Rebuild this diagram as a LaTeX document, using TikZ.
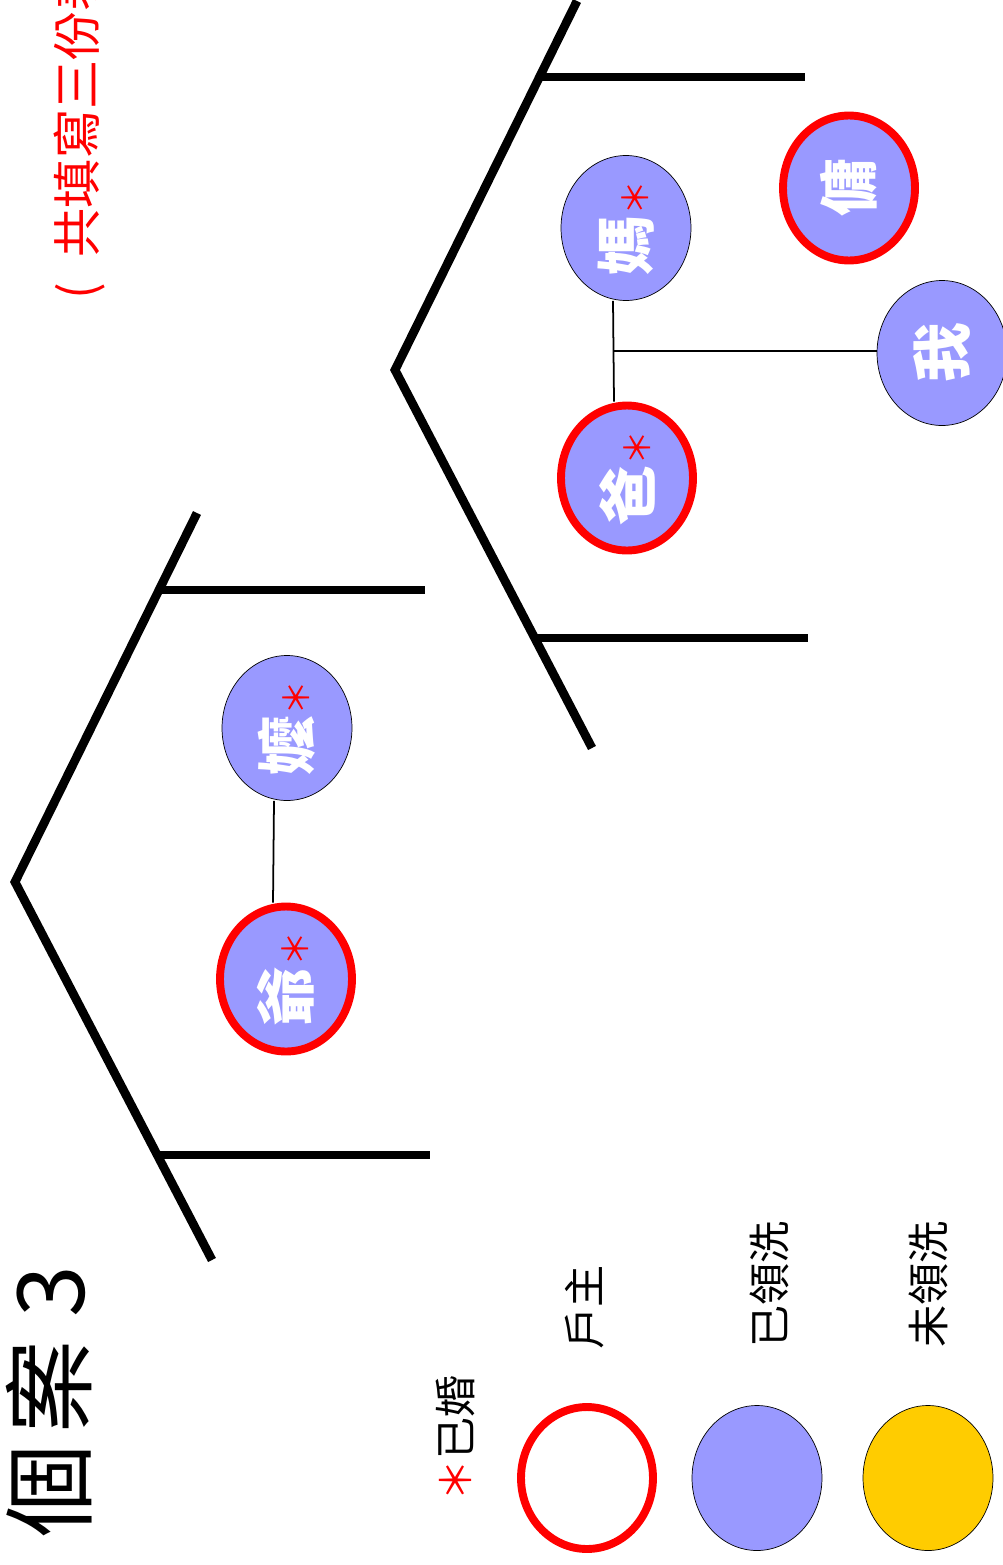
\documentclass[tikz,border=0pt]{standalone}
\usepackage{fontspec}
\setmainfont{Noto Sans CJK TC}
\usepackage{graphicx}
\usepackage{xcolor}
\usetikzlibrary{shapes.geometric,calc}
\definecolor{baptized}{RGB}{153,153,255}
\definecolor{unbaptized}{RGB}{255,204,0}
\definecolor{headred}{RGB}{255,0,0}
\newcommand{\wed}{\textcolor{headred}{\mdseries\fontsize{20}{20}\selectfont＊}}

\begin{document}
\begin{tikzpicture}[x=0.02cm,y=-0.02cm,
    bracket/.style={line width=5pt},
    link/.style={line width=1pt},
    member/.style={ellipse,
        draw=black,
        fill=baptized,
        inner sep=0pt,
        minimum width=2.6cm,
        minimum height=2.9cm,
        text=white,
        font=\bfseries\fontsize{34}{36}\selectfont},
    head/.style={member,
        draw=headred,
        line width=4.5pt,
        minimum width=2.64cm},
    vtext/.style={rotate=90,
        anchor=west,
        inner sep=0pt}]
    \useasboundingbox (0,0) rectangle (1003,1565);
    \clip (0,0) rectangle (1003,1565);

    % Title and note
    \node[vtext,font=\fontsize{53}{56}\selectfont] (title) at (49,1538) {個\hspace{0.12em}案\hspace{0.25em}3};
    \node[vtext,headred,font=\fontsize{28}{30}\selectfont] (note) at (80,300) {(~\hspace{0.3em}共填寫三份表};

    % Grandparents household
    \draw[bracket] (197,513) -- (15,882) -- (212,1260);
    \draw[bracket] (159,590) -- (425,590);
    \draw[bracket] (157,1155) -- (430,1155);

    \node[member] (nai) at (287,728) {\rotatebox{90}{嬤\wed}};
    \node[head] (ye) at (286,979) {\rotatebox{90}{爺\wed}};
    \draw[link] ([xshift=-0.26cm]nai.south) -- ([xshift=-0.26cm]ye.north);

    % Parents household
    \draw[bracket] (577,1) -- (395,370) -- (592,748);
    \draw[bracket] (540,77) -- (805,77);
    \draw[bracket] (535,638) -- (808,638);

    \node[member] (ma) at (626,228) {\rotatebox{90}{媽\wed}};
    \node[head] (ba) at (627,478) {\rotatebox{90}{爸\wed}};
    \node[member] (wo) at (942,353) {\rotatebox{90}{我}};
    \node[head] (yong) at (849,188) {\rotatebox{90}{傭}};
    \draw[link] ([xshift=-0.26cm]ma.south) -- ([xshift=-0.26cm]ba.north);
    \coordinate (kids) at ($([xshift=-0.26cm]ma.south)!0.5!([xshift=-0.26cm]ba.north)$);
    \draw[link] (kids) -- (kids -| wo.west);

    % Legend
    \node[vtext,font=\fontsize{24}{26}\selectfont] (married) at (455,1502) {\textcolor{headred}{＊}已婚};
    \node[head,fill=white,minimum height=2.84cm] (keyhead) at (587,1478) {};
    \node[vtext,font=\fontsize{24}{26}\selectfont] (headtext) at (585,1350) {戶主};
    \node[member] (keybap) at (757,1478) {};
    \node[vtext,font=\fontsize{24}{26}\selectfont] (baptext) at (769,1348) {已領洗};
    \node[member,fill=unbaptized] (keyunbap) at (928,1478) {};
    \node[vtext,font=\fontsize{24}{26}\selectfont] (unbaptext) at (928,1348) {未領洗};
\end{tikzpicture}
\end{document}
